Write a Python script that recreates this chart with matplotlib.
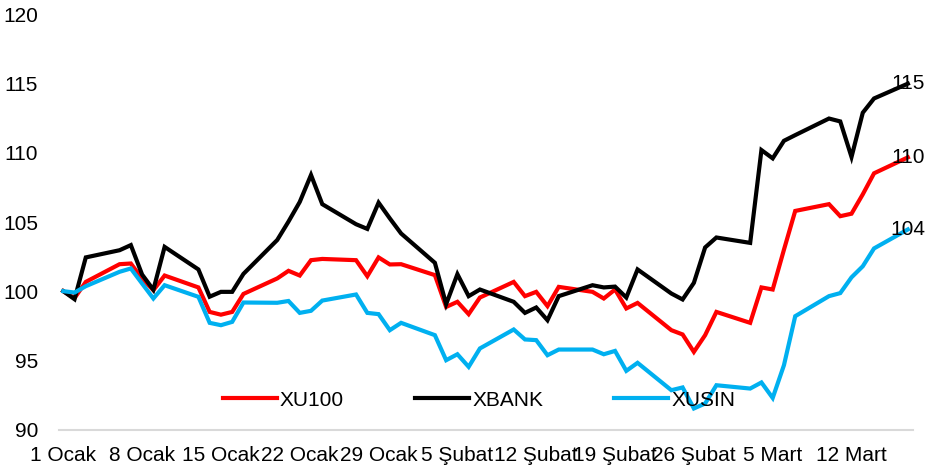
import numpy as np
import matplotlib.pyplot as plt
import pandas as pd

plt.rcParams.update({
    "font.family": ["Liberation Sans", "DejaVu Sans"],
    "font.size": 15,
})

tarihler = [
    "2025-01-01", "2025-01-02", "2025-01-03", "2025-01-06", "2025-01-07", "2025-01-08",
    "2025-01-09", "2025-01-10", "2025-01-13", "2025-01-14", "2025-01-15", "2025-01-16",
    "2025-01-17", "2025-01-20", "2025-01-21", "2025-01-22", "2025-01-23", "2025-01-24",
    "2025-01-27", "2025-01-28", "2025-01-29", "2025-01-30", "2025-01-31", "2025-02-03",
    "2025-02-04", "2025-02-05", "2025-02-06", "2025-02-07", "2025-02-10", "2025-02-11",
    "2025-02-12", "2025-02-13", "2025-02-14", "2025-02-17", "2025-02-18", "2025-02-19",
    "2025-02-20", "2025-02-21", "2025-02-24", "2025-02-25", "2025-02-26", "2025-02-27",
    "2025-02-28", "2025-03-03", "2025-03-04", "2025-03-05", "2025-03-06", "2025-03-07",
    "2025-03-10", "2025-03-11", "2025-03-12", "2025-03-13", "2025-03-14", "2025-03-17",
]

xu100 = [100.0, 99.5, 100.67, 101.95, 102.0, 100.9, 100.07, 101.13, 100.27, 98.5,
         98.3, 98.5, 99.8, 100.92, 101.47, 101.13, 102.24, 102.33, 102.24, 101.08,
         102.44, 101.93, 101.95, 101.16, 98.86, 99.23, 98.34, 99.54, 100.67, 99.64,
         99.95, 98.92, 100.31, 99.95, 99.47, 100.12, 98.75, 99.15, 97.18, 96.87,
         95.61, 96.82, 98.5, 97.71, 100.27, 100.12, 103.0, 105.8, 106.29, 105.42,
         105.6, 107.0, 108.52, 109.67]

xbank = [100.0, 99.42, 102.44, 102.96, 103.33, 101.2, 100.1, 103.2, 101.57, 99.6,
         99.95, 99.95, 101.25, 103.7, 105.03, 106.45, 108.4, 106.29, 104.84, 104.5,
         106.4, 105.26, 104.17, 102.05, 99.06, 101.23, 99.64, 100.12, 99.23, 98.43,
         98.82, 97.9, 99.64, 100.43, 100.27, 100.33, 99.54, 101.57, 99.83, 99.4,
         100.6, 103.16, 103.88, 103.49, 110.2, 109.6, 110.87, 111.28, 112.48, 112.27,
         109.7, 112.9, 113.93, 115.0]

xusin = [100.0, 99.9, 100.36, 101.4, 101.64, 100.55, 99.47, 100.43, 99.59, 97.71,
         97.54, 97.78, 99.18, 99.16, 99.29, 98.43, 98.58, 99.32, 99.76, 98.43,
         98.34, 97.18, 97.71, 96.82, 95.01, 95.44, 94.53, 95.86, 97.23, 96.51,
         96.46, 95.37, 95.78, 95.78, 95.44, 95.68, 94.24, 94.82, 92.84, 93.04,
         91.52, 91.88, 93.2, 92.96, 93.4, 92.28, 94.65, 98.19, 99.64, 99.86,
         101.0, 101.8, 103.09, 104.46]

etiket_tarih = ["2025-01-01", "2025-01-08", "2025-01-15", "2025-01-22", "2025-01-29",
                "2025-02-05", "2025-02-12", "2025-02-19", "2025-02-26", "2025-03-05",
                "2025-03-12"]
etiketler = ["1 Ocak", "8 Ocak", "15 Ocak", "22 Ocak", "29 Ocak", "5 Şubat",
             "12 Şubat", "19 Şubat", "26 Şubat", "5 Mart", "12 Mart"]

x = pd.to_datetime(tarihler)
seriler = [("XU100", xu100, "#ff0000"), ("XBANK", xbank, "#000000"), ("XUSIN", xusin, "#00b0f0")]

fig = plt.figure(figsize=(9.28, 4.69), dpi=100)
ax = fig.add_axes([59/928, 1-429.5/469, (913-59)/928, (429.5-14.5)/469])

for ad, y, renk in seriler:
    ax.plot(x, y, color=renk, lw=3, label=ad, solid_joinstyle="miter")
    ax.text(x[-1], y[-1], f"{y[-1]:.0f}", ha="center", va="center", fontsize=15, clip_on=False)

bas = pd.Timestamp("2025-01-01")
ax.set_xlim(bas + pd.Timedelta(days=-0.38), bas + pd.Timedelta(days=75.46))
ax.set_ylim(90, 120)
ax.set_yticks(np.arange(90, 121, 5))
ax.set_xticks(pd.to_datetime(etiket_tarih))
ax.set_xticklabels(etiketler)
ax.tick_params(axis="both", length=0, labelsize=15)
ax.tick_params(axis="y", pad=15)
ax.tick_params(axis="x", pad=12)

for s in ["top", "right", "left"]:
    ax.spines[s].set_visible(False)
ax.spines["bottom"].set_color("#d9d9d9")
ax.spines["bottom"].set_linewidth(1.5)

ax.legend(loc="center", bbox_to_anchor=(479/928, 1-400/469), bbox_transform=fig.transFigure,
          ncol=3, frameon=False, handlelength=2.6, handletextpad=0.15, columnspacing=3.4,
          fontsize=15, borderpad=0)

plt.savefig("out.png", dpi=100)
